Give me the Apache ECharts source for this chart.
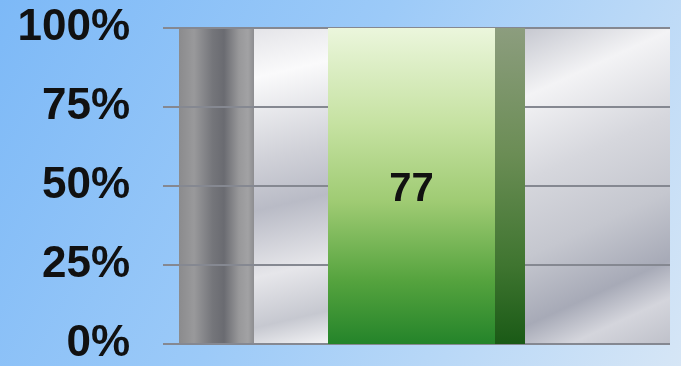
<!DOCTYPE html>
<html>
<head>
<meta charset="utf-8">
<style>
  html, body { margin: 0; padding: 0; }
  #chart { width: 681px; height: 366px; }
</style>
<script src="https://cdn.jsdelivr.net/npm/echarts@6/dist/echarts.min.js"></script>
</head>
<body>
<div id="chart"></div>
<script>
// ---- data ----
const categories = ['Score'];
const values = [77];
const yTicks = [0, 25, 50, 75, 100];
const wallValue = [100];

// share of total (100% stacked single value)
const total = values.reduce((a, b) => a + b, 0);
const shares = values.map(v => v / total * 100);

const chart = echarts.init(document.getElementById('chart'), null, { renderer: 'canvas' });

const lin = (x, y, x2, y2, stops) => new echarts.graphic.LinearGradient(x, y, x2, y2,
  stops.map((c) => ({ offset: c[0], color: c[1] })));

const darkMetal = lin(0, 0, 1, 0, [
  [0, '#8b8b8d'], [0.2, '#99999b'], [0.45, '#74757a'], [0.6, '#6a6b71'],
  [0.8, '#98989a'], [0.92, '#a2a2a4'], [1, '#8d8d90']
]);
const lightMetal = lin(0, 0, 1, 1, [
  [0, '#e4e4e8'], [0.15, '#fafafb'], [0.4, '#d0d1d8'], [0.55, '#b9bbc6'],
  [0.75, '#e6e6ea'], [0.9, '#c6c8d0'], [1, '#f4f4f6']
]);
const rightMetal = lin(0, 0, 1, 1, [
  [0, '#c6c8d0'], [0.18, '#f3f3f5'], [0.4, '#d6d7dd'], [0.6, '#c5c7cf'],
  [0.78, '#a7aab7'], [0.88, '#d4d5dc'], [1, '#bfc1ca']
]);
const greenFront = lin(0, 0, 0, 1, [
  [0, '#ebf6dc'], [0.3, '#c6e2a2'], [0.55, '#9fcb73'], [0.8, '#55a33e'], [1, '#24842a']
]);
const greenSide = lin(0, 0, 0, 1, [
  [0, '#8c9d7e'], [0.4, '#6b8d55'], [0.75, '#3f7530'], [1, '#1a5a16']
]);

const common = {
  type: 'bar',
  barGap: '0%',
  barCategoryGap: '0%',
  silent: true,
  animation: false
};

const option = {
  animation: false,
  backgroundColor: lin(0, 0, 1, 1, [
    [0, '#7db9f7'], [0.45, '#9ccaf8'], [1, '#d6e6f6']
  ]),
  grid: { left: 179, right: 11, top: 28, bottom: 19, containLabel: false },
  xAxis: {
    type: 'category',
    data: categories,
    axisLine: { show: false },
    axisTick: { show: false },
    axisLabel: { show: false },
    splitLine: { show: false }
  },
  yAxis: {
    type: 'value',
    min: yTicks[0],
    max: yTicks[yTicks.length - 1],
    interval: yTicks[1] - yTicks[0],
    z: 3,
    axisLine: { show: false },
    axisTick: { show: true, length: 16, inside: false, lineStyle: { color: '#858891', width: 2 } },
    axisLabel: {
      margin: 49,
      padding: [6, 0, 0, 0],
      formatter: v => v + '%',
      color: '#111111',
      fontFamily: 'Liberation Sans',
      fontWeight: 'bold',
      fontSize: 44
    },
    splitLine: { show: true, lineStyle: { color: '#858891', width: 2 } }
  },
  series: [
    Object.assign({}, common, { name: 'wallA', data: wallValue, barWidth: 75, z: 1, itemStyle: { color: darkMetal } }),
    Object.assign({}, common, { name: 'wallB', data: wallValue, barWidth: 74, z: 1, itemStyle: { color: lightMetal } }),
    Object.assign({}, common, {
      name: 'value', data: shares, barWidth: 167, z: 5,
      itemStyle: { color: greenFront },
      label: {
        show: true, position: 'inside', offset: [0, 4],
        formatter: p => String(values[p.dataIndex]),
        color: '#111111', fontFamily: 'Liberation Sans', fontWeight: 'bold', fontSize: 40
      }
    }),
    Object.assign({}, common, { name: 'side', data: shares, barWidth: 30, z: 5, itemStyle: { color: greenSide } }),
    Object.assign({}, common, { name: 'wallC', data: wallValue, barWidth: 145, z: 1, itemStyle: { color: rightMetal } })
  ]
};

chart.setOption(option);
</script>
</body>
</html>
